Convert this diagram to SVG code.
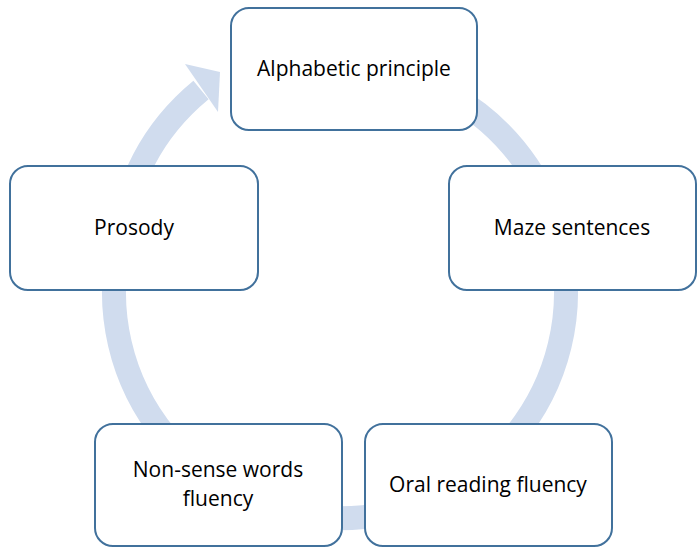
<svg xmlns="http://www.w3.org/2000/svg" width="700" height="558" viewBox="0 0 700 558">
<style>
.box{fill:#fff;stroke:#41719c;stroke-width:2}
.t{font-family:"Open Sans","Liberation Sans",sans-serif;font-size:21px;fill:#000;text-anchor:middle}
.ring{fill:none;stroke:#d0dcee;stroke-width:24}
</style>
<rect width="700" height="558" fill="#fff"/>
<g id="connectors">
<path class="ring" d="M260,81 A226,226 0 1 1 118,250 Q128,150 201,90"/>
<polygon points="185,64 220,72 218,112" fill="#d0dcee"/>
</g>
<g id="n1"><rect class="box" x="231" y="8" width="246" height="122" rx="18"/><text class="t" x="354" y="76">Alphabetic principle</text></g>
<g id="n2"><rect class="box" x="449" y="166" width="247" height="124" rx="18"/><text class="t" x="572" y="235">Maze sentences</text></g>
<g id="n3"><rect class="box" x="365" y="424" width="247" height="122" rx="18"/><text class="t" x="488" y="492">Oral reading fluency</text></g>
<g id="n4"><rect class="box" x="95" y="424" width="247" height="122" rx="18"/><text class="t" x="218" y="477">Non-sense words</text><text class="t" x="218" y="506">fluency</text></g>
<g id="n5"><rect class="box" x="10" y="166" width="248" height="124" rx="18"/><text class="t" x="134" y="235">Prosody</text></g>
</svg>
